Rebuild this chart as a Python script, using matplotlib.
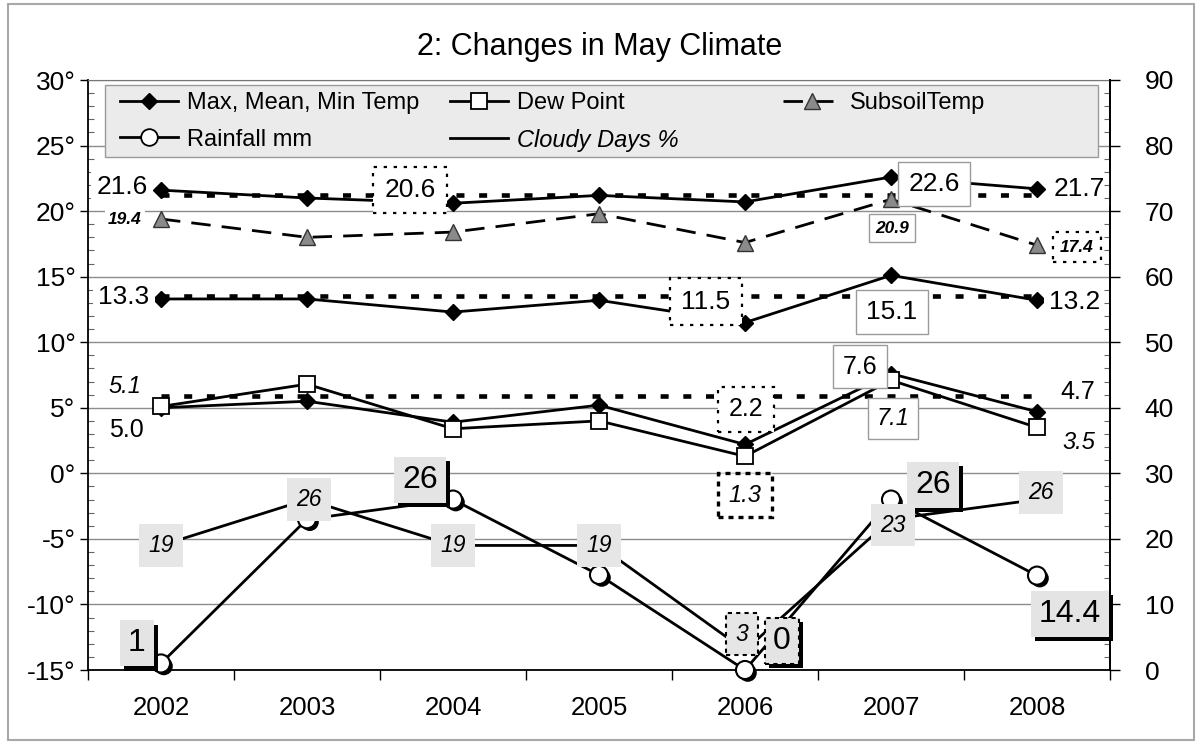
import matplotlib
matplotlib.use('Agg')
import numpy as np
import matplotlib.pyplot as plt
import matplotlib.patheffects as pe
from matplotlib.lines import Line2D
from matplotlib.patches import Rectangle
from matplotlib.ticker import MultipleLocator

plt.rcParams['font.family'] = ['Liberation Sans', 'DejaVu Sans']

# ---------------- data ----------------
years = ['2002', '2003', '2004', '2005', '2006', '2007', '2008']
max_temp = [21.6, 21.0, 20.6, 21.2, 20.7, 22.6, 21.7]
mean_temp = [13.3, 13.3, 12.3, 13.2, 11.5, 15.1, 13.2]
min_temp = [5.0, 5.5, 3.9, 5.2, 2.2, 7.6, 4.7]
dew_point = [5.1, 6.8, 3.4, 4.0, 1.3, 7.1, 3.5]
subsoil_temp = [19.4, 18.0, 18.4, 19.8, 17.6, 20.9, 17.4]
rainfall_mm = [1, 23, 26, 14.5, 0, 26, 14.4]
cloudy_days = [19, 26, 19, 19, 3, 23, 26]
avg_max = 21.2
avg_mean = 13.5
avg_min = 5.9

temp_ticks = [-15, -10, -5, 0, 5, 10, 15, 20, 25, 30]
right_ticks = [0, 10, 20, 30, 40, 50, 60, 70, 80, 90]

# ---------------- figure ----------------
W, H = 1200, 746
fig = plt.figure(figsize=(W / 100, H / 100), dpi=100)
ax = fig.add_axes([88 / W, 1 - 670 / H, (1110 - 88) / W, (670 - 80) / H])
ax2 = ax.twinx()

x = np.arange(len(years))

# reference (average) dotted lines
for v in (avg_max, avg_mean, avg_min):
    ax.plot(x, [v] * len(x), color='k', lw=3.3, ls=(0, (1.75, 3.2)), zorder=2.5)

l_max, = ax.plot(x, max_temp, color='k', lw=2, marker='D', ms=8, mfc='k', mec='k', zorder=3)
ax.plot(x, mean_temp, color='k', lw=2, marker='D', ms=8, mfc='k', mec='k', zorder=3)
ax.plot(x, min_temp, color='k', lw=2, marker='D', ms=8, mfc='k', mec='k', zorder=3)
l_dew, = ax.plot(x, dew_point, color='k', lw=2, marker='s', ms=11, mfc='white', mec='k', mew=1.3, zorder=3.2)
l_sub, = ax.plot(x, subsoil_temp, color='k', lw=2, ls=(0, (7, 4)), marker='^', ms=11,
                 mfc='#8a8a8a', mec='#333333', zorder=3)

ax2.plot(x, rainfall_mm, color='k', lw=2, zorder=3)
ax2.plot(x, rainfall_mm, ls='none', marker='o', ms=13, mfc='white', mec='k', mew=1.5, zorder=3.5,
         clip_on=False,
         path_effects=[pe.SimplePatchShadow(offset=(2, -2), shadow_rgbFace='k', alpha=1), pe.Normal()])
l_cloud, = ax2.plot(x, cloudy_days, color='k', lw=2, zorder=3)
l_rain = Line2D([], [], color='k', lw=2, marker='o', ms=12, mfc='white', mec='k', mew=1.3)

# ---------------- axes styling ----------------
ax.set_xlim(-0.5, len(years) - 0.5)
ax.set_ylim(-15, 30)
ax2.set_ylim(0, 90)

ax.set_yticks(temp_ticks)
ax.set_yticklabels([f'{t}°' for t in temp_ticks])
ax.yaxis.set_minor_locator(MultipleLocator(1))
ax.tick_params(axis='y', which='major', direction='out', length=6, width=1, labelsize=19, pad=3)
ax.tick_params(axis='y', which='minor', direction='in', length=4, width=0.8, color='#666666')

ax2.set_yticks(right_ticks)
ax2.yaxis.set_minor_locator(MultipleLocator(2))
ax2.tick_params(axis='y', which='major', direction='out', length=7, width=1, labelsize=19, pad=18)
ax2.tick_params(axis='y', which='minor', direction='in', length=4, width=0.8, color='#666666')

ax.set_xticks(np.arange(-0.5, len(years), 1))
ax.set_xticklabels([])
ax.set_xticks(x, minor=True)
ax.set_xticklabels(years, minor=True)
ax.tick_params(axis='x', which='major', direction='out', length=7, width=1)
ax.tick_params(axis='x', which='minor', length=0, pad=19, labelsize=18.5)

ax.yaxis.grid(True, which='major', color='#8c8c8c', lw=1)
ax.set_axisbelow(True)
for s in ('left', 'bottom', 'right'):
    ax.spines[s].set_color('k')
    ax.spines[s].set_linewidth(1.3)
ax.spines['top'].set_color('#777777')
for s in ('left', 'bottom', 'top'):
    ax2.spines[s].set_visible(False)
ax2.spines['right'].set_color('k')
ax2.spines['right'].set_linewidth(1.3)

# ---------------- data labels ----------------
PX = 72 / 100.0

BOXES = {
    'none': None,
    'plain': dict(boxstyle='square,pad=0.2', fc='white', ec='none'),
    'dotted': dict(boxstyle='square,pad=0.42', fc='white', ec='k', lw=1.6, ls=(0, (1.5, 3))),
    'gray': dict(boxstyle='square,pad=0.38', fc='white', ec='#9a9a9a', lw=1),
    'dashed': dict(boxstyle='square,pad=0.45', fc='white', ec='k', lw=2.4, ls=(0, (1.5, 1.5))),
    'rain': dict(boxstyle='square,pad=0.25', fc='#e4e4e4', ec='none'),
    'rain_dashed': dict(boxstyle='square,pad=0.25', fc='#e4e4e4', ec='k', lw=1.5, ls=(0, (2, 2))),
    'cloud': dict(boxstyle='square,pad=0.42', fc='#e6e6e6', ec='none'),
    'cloud_dashed': dict(boxstyle='square,pad=0.42', fc='#e6e6e6', ec='k', lw=1.5, ls=(0, (2, 2))),
}


def fmt_temp(v):
    return f'{v:.1f}'


def fmt_count(v):
    return f'{v:g}'


def put_labels(axis, values, specs, size, fmt, style='normal', weight='normal', shadow=False):
    for i, dx, dy, box in specs:
        bb = BOXES[box]
        t = axis.annotate(fmt(values[i]), (x[i], values[i]), xytext=(dx * PX, -dy * PX),
                          textcoords='offset points', ha='center', va='center',
                          fontsize=size, fontstyle=style, fontweight=weight,
                          bbox=dict(bb) if bb else None, zorder=6, annotation_clip=False)
        if shadow and bb:
            t.get_bbox_patch().set_path_effects(
                [pe.SimplePatchShadow(offset=(3, -3), shadow_rgbFace='k', alpha=1), pe.Normal()])


# (index, dx px, dy px [down positive], box)
put_labels(ax, max_temp, [(0, -39, -3, 'plain'), (2, -43, -13, 'dotted'),
                          (5, 43, 7, 'gray'), (6, 42, 0, 'plain')], 19, fmt_temp)
put_labels(ax, subsoil_temp, [(0, -36, 1, 'plain'), (5, 1, 29, 'gray'),
                              (6, 40, 2, 'dotted')], 12.5, fmt_temp, style='italic', weight='bold')
put_labels(ax, mean_temp, [(0, -37, -2, 'plain'), (4, -39, -21, 'dotted'),
                           (5, 1, 37, 'gray'), (6, 38, 2, 'plain')], 19, fmt_temp)
put_labels(ax, min_temp, [(0, -35, 22, 'plain'), (4, 1, -35, 'dotted'),
                          (5, -31, -7, 'gray'), (6, 41, -20, 'none')], 18, fmt_temp)
put_labels(ax, dew_point, [(0, -36, -20, 'plain'), (4, 0, 39, 'dashed'),
                           (5, 2, 38, 'gray'), (6, 42, 15, 'plain')], 17, fmt_temp, style='italic')
put_labels(ax2, rainfall_mm, [(0, -24, -20, 'rain'), (2, -33, -20, 'rain'),
                              (4, 37, -29, 'rain_dashed'), (5, 42, -15, 'rain'),
                              (6, 33, 38, 'rain')], 23, fmt_count, shadow=True)
put_labels(ax2, cloudy_days, [(0, 0, 0, 'cloud'), (1, 2, 0, 'cloud'), (2, 0, 0, 'cloud'),
                              (3, 0, 0, 'cloud'), (4, -3, -16, 'cloud_dashed'),
                              (5, 2, 6, 'cloud'), (6, 4, -7, 'cloud')], 16.5, fmt_count, style='italic')

# ---------------- legend ----------------
ax2.add_patch(Rectangle((17 / 1022, (670 - 157) / 590), (1098 - 105) / 1022, 72 / 590,
                        transform=ax2.transAxes, fc='#ebebeb', ec='#9a9a9a', lw=1, zorder=4.5))
leg_kw = dict(frameon=False, borderpad=0, borderaxespad=0, handlelength=2.45,
              handletextpad=0.38, labelspacing=0.62, fontsize=17, loc='upper left')
leg_top = (670 - 92) / 590
leg1 = ax2.legend([l_max, l_rain, l_dew, l_cloud],
                  ['Max, Mean, Min Temp', 'Rainfall mm', 'Dew Point', 'Cloudy Days %'],
                  ncol=2, columnspacing=1.3, bbox_to_anchor=((120 - 88) / 1022, leg_top),
                  **leg_kw)
leg1.get_texts()[3].set_fontstyle('italic')
leg1.set_zorder(7)
ax2.add_artist(leg1)
leg2 = ax2.legend([l_sub], ['SubsoilTemp'], bbox_to_anchor=((783 - 88) / 1022, leg_top),
                  **leg_kw)
leg2.set_zorder(7)

# ---------------- title & frame ----------------
fig.text(0.5, 1 - 47 / H, '2: Changes in May Climate', fontsize=22, ha='center', va='center')
fig.patches.append(Rectangle((8 / W, 6 / H), (1194 - 8) / W, (742 - 6) / H, transform=fig.transFigure,
                             fill=False, ec='#a8a8a8', lw=1.5))

fig.savefig('out.png', dpi=100)
